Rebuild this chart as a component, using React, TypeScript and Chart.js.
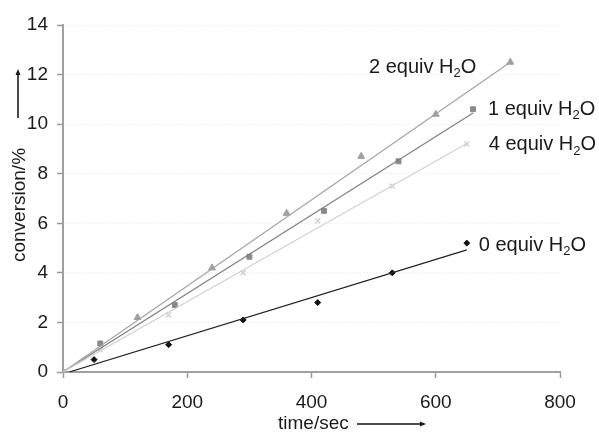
import React, { useEffect, useRef } from 'react';
import { Chart, registerables } from 'chart.js';
Chart.register(...registerables);

// ---- data ----
const xTickValues = [0, 200, 400, 600, 800];
const yTickValues = [0, 2, 4, 6, 8, 10, 12, 14];

const time2 = [0, 120, 240, 360, 480, 600, 720];
const conv2 = [0, 2.2, 4.2, 6.4, 8.7, 10.4, 12.5];
const time1 = [0, 60, 180, 300, 420, 540, 660];
const conv1 = [0, 1.15, 2.7, 4.65, 6.5, 8.5, 10.6];
const time4 = [0, 60, 170, 290, 410, 530, 650];
const conv4 = [0, 0.9, 2.3, 4.0, 6.1, 7.5, 9.2];
const time0 = [50, 170, 290, 410, 530, 650];
const conv0 = [0.5, 1.1, 2.1, 2.8, 4.0, 5.2];

// trend line end points (time, conversion)
const trendTime2 = [0, 720];
const trendConv2 = [0, 12.5];
const trendTime1 = [0, 660];
const trendConv1 = [0, 10.45];
const trendTime4 = [0, 650];
const trendConv4 = [0, 9.22];
const trendTime0 = [10, 650];
const trendConv0 = [0, 4.93];

const seriesNames = ['2 equiv H', '1 equiv H', '4 equiv H', '0 equiv H'];

const pts = (xs: number[], ys: number[]) => xs.map((x, i) => ({ x, y: ys[i] }));

const FONT = '"Liberation Sans", Arial, sans-serif';

const labelPlugin = {
  id: 'labels',
  afterDatasetsDraw(chart: any) {
    const { ctx, scales } = chart;
    const xs = scales.x, ys = scales.y;
    const drawLabel = (name: string, px: number, py: number, align: 'left' | 'right') => {
      ctx.save();
      ctx.fillStyle = '#1a1a1a';
      ctx.textBaseline = 'middle';
      ctx.font = `20px ${FONT}`;
      const w1 = ctx.measureText(name).width;
      ctx.font = `13px ${FONT}`;
      const w2 = ctx.measureText('2').width;
      ctx.font = `20px ${FONT}`;
      const w3 = ctx.measureText('O').width;
      const total = w1 + w2 + w3;
      let x = align === 'left' ? px : px - total;
      ctx.textAlign = 'left';
      ctx.fillText(name, x, py);
      x += w1;
      ctx.font = `13px ${FONT}`;
      ctx.fillText('2', x, py + 6);
      x += w2;
      ctx.font = `20px ${FONT}`;
      ctx.fillText('O', x, py);
      ctx.restore();
    };
    const last = (t: number[], c: number[]) => ({
      x: xs.getPixelForValue(t[t.length - 1]),
      y: ys.getPixelForValue(c[c.length - 1]),
    });
    const l2 = last(time2, conv2);
    const l1 = last(time1, conv1);
    const l4 = last(time4, conv4);
    const l0 = last(time0, conv0);
    drawLabel(seriesNames[0], l2.x - 34, l2.y + 5, 'right');
    drawLabel(seriesNames[1], l1.x + 15, l1.y, 'left');
    drawLabel(seriesNames[2], l4.x + 22, l4.y + 1, 'left');
    drawLabel(seriesNames[3], l0.x + 12, l0.y + 2, 'left');

    // axis titles with arrows
    ctx.save();
    ctx.fillStyle = '#1a1a1a';
    ctx.strokeStyle = '#111';
    ctx.font = `19px ${FONT}`;
    ctx.textBaseline = 'middle';
    // y title
    ctx.save();
    ctx.translate(20, 205);
    ctx.rotate(-Math.PI / 2);
    ctx.textAlign = 'center';
    ctx.fillText('conversion/%', 0, 0);
    ctx.restore();
    ctx.lineWidth = 1.5;
    ctx.beginPath();
    ctx.moveTo(18, 118);
    ctx.lineTo(18, 73);
    ctx.stroke();
    ctx.beginPath();
    ctx.moveTo(18, 69);
    ctx.lineTo(15.5, 75);
    ctx.lineTo(20.5, 75);
    ctx.closePath();
    ctx.fill();
    // x title
    ctx.textAlign = 'left';
    ctx.fillText('time/sec', 278, 424);
    ctx.beginPath();
    ctx.moveTo(357, 424);
    ctx.lineTo(421, 424);
    ctx.stroke();
    ctx.beginPath();
    ctx.moveTo(426, 424);
    ctx.lineTo(420, 421.5);
    ctx.lineTo(420, 426.5);
    ctx.closePath();
    ctx.fill();
    ctx.restore();
  },
};

export default function App() {
  const ref = useRef<HTMLCanvasElement>(null);
  useEffect(() => {
    if (!ref.current) return;
    const line = (t: number[], c: number[], color: string) => ({
      type: 'line' as const,
      data: pts(t, c),
      borderColor: color,
      borderWidth: 1.2,
      pointRadius: 0,
      showLine: true,
      fill: false,
    });
    const marks = (t: number[], c: number[], color: string, style: string, r: number) => ({
      type: 'scatter' as const,
      data: pts(t, c),
      pointStyle: style,
      pointRadius: r,
      backgroundColor: color,
      borderColor: color,
      borderWidth: style === 'cross' || style === 'crossRot' ? 1.5 : 1,
      showLine: false,
    });
    const chart = new Chart(ref.current, {
      type: 'scatter',
      data: {
        datasets: [
          line(trendTime4, trendConv4, '#d2d2d2'),
          line(trendTime2, trendConv2, '#a4a4a4'),
          line(trendTime1, trendConv1, '#808080'),
          line(trendTime0, trendConv0, '#222222'),
          marks(time4, conv4, '#d0d0d0', 'crossRot', 3.5),
          marks(time2, conv2, '#a0a0a0', 'triangle', 4),
          marks(time1, conv1, '#8a8a8a', 'rect', 3.5),
          marks(time0, conv0, '#111111', 'rectRot', 3),
        ] as any,
      },
      options: {
        animation: false,
        responsive: false,
        maintainAspectRatio: false,
        layout: { padding: { left: 0, top: 25, right: 39, bottom: 0 } },
        plugins: { legend: { display: false }, tooltip: { enabled: false } },
        scales: {
          x: {
            type: 'linear',
            min: 0,
            max: 800,
            afterBuildTicks: (s: any) => { s.ticks = xTickValues.map((v) => ({ value: v })); },
            afterFit: (s: any) => { s.height = 61; },
            grid: { drawOnChartArea: false, drawTicks: true, tickLength: 6, tickColor: '#9a9a9a', tickWidth: 1.5 },
            border: { color: '#a0a0a0', width: 2 },
            ticks: { color: '#1a1a1a', font: { family: FONT, size: 19 }, padding: 13 },
          },
          y: {
            type: 'linear',
            min: 0,
            max: 14,
            afterBuildTicks: (s: any) => { s.ticks = yTickValues.map((v) => ({ value: v })); },
            afterFit: (s: any) => { s.width = 63; },
            grid: { drawOnChartArea: true, color: '#ececec', lineWidth: 1, drawTicks: true, tickLength: 6, tickColor: '#9a9a9a', tickWidth: 1.5 },
            border: { color: '#a0a0a0', width: 2, dash: [1, 2] },
            ticks: { color: '#1a1a1a', font: { family: FONT, size: 19 }, padding: 9 },
          },
        },
      },
      plugins: [labelPlugin],
    } as any);
    return () => chart.destroy();
  }, []);
  return (
    <div style={{ position: 'fixed', left: 0, top: 0, width: 599, height: 433, background: '#fff' }}>
      <canvas ref={ref} width={599} height={433} style={{ width: 599, height: 433 }} />
    </div>
  );
}
